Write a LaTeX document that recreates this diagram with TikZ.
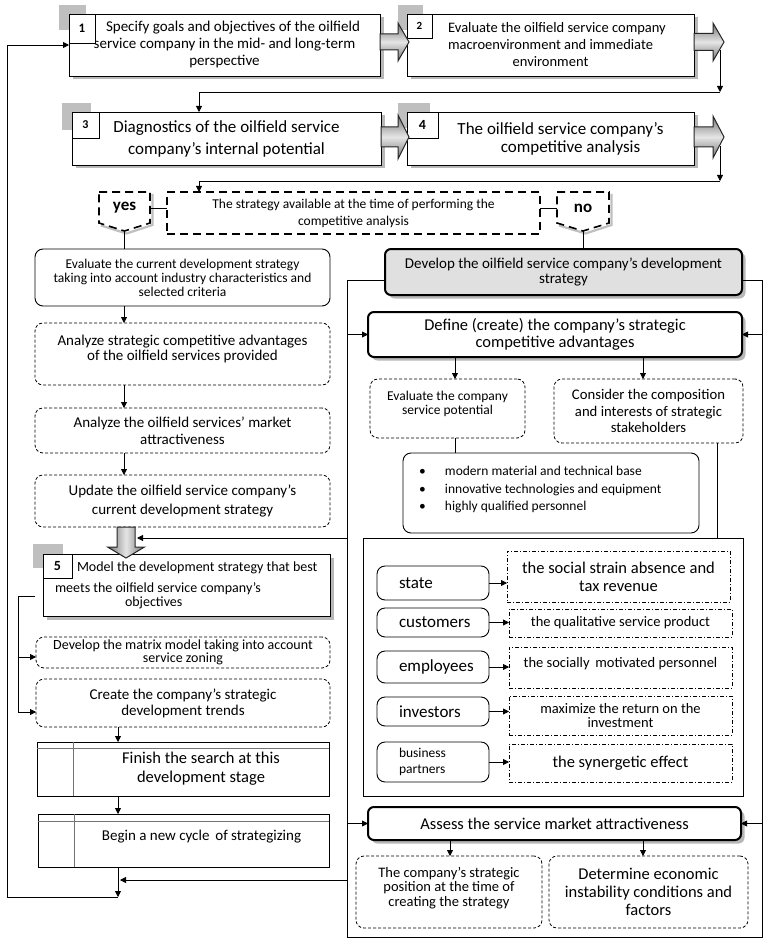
\documentclass[tikz,border=0pt]{standalone}
\usepackage{fontspec}
\setmainfont{Carlito}
\usetikzlibrary{arrows.meta,shadows,calc}
\newcommand\fsz[2]{\fontsize{#1}{#2}\selectfont}
\newcommand\boxat[6]{\node[#1, minimum width={#5-#3}, minimum height={#6-#4}] (#2) at ({(#3+#5)/2},{(#4+#6)/2})}
\newcommand\barR[6]{\draw[barrow] (#1,{#2-#4}) -- ({#1+#3-#6},{#2-#4}) -- ({#1+#3-#6},{#2-#5}) -- ({#1+#3},#2) -- ({#1+#3-#6},{#2+#5}) -- ({#1+#3-#6},{#2+#4}) -- (#1,{#2+#4}) -- cycle;}
\begin{document}
\begin{tikzpicture}[x=1pt,y=-1pt,
  every node/.style={inner sep=0pt, outer sep=0pt, align=center},
  arr/.style={-{Triangle[length=6pt,width=6pt]}, line width=0.8pt},
  ln/.style={line width=0.8pt},
  shad/.style={drop shadow={shadow xshift=3.5pt,shadow yshift=-3.5pt,fill=black!28,opacity=1}},
  sbox/.style={draw, line width=0.9pt, fill=white, shad},
  nbox/.style={draw, line width=0.9pt, fill=white, font=\bfseries\fsz{13}{13}},
  rbox/.style={draw, line width=0.9pt, rounded corners=8pt, fill=white},
  dbox/.style={draw, line width=0.8pt, rounded corners=8pt, dash pattern=on 3pt off 2pt},
  tbox/.style={draw, line width=2pt, rounded corners=6pt, fill=white, shad},
  ddbox/.style={draw, line width=0.8pt, dash pattern=on 4pt off 2pt on 1pt off 2pt},
  lbox/.style={draw, line width=1.6pt, dash pattern=on 8pt off 5pt},
  fbox/.style={draw, line width=0.9pt},
  barrow/.style={draw=black!85, line width=1pt, top color=black!55, bottom color=black!55, middle color=black!10},
  kbox/.style={rbox, font=\fsz{17}{17}},
]
\useasboundingbox (0,0) rectangle (768,941);
\fill[white] (0,0) rectangle (768,941);

% gray corner squares
\fill[black!25] (59,5) rectangle (86,30);
\fill[black!25] (398,5) rectangle (423,30);
\fill[black!25] (62,103) rectangle (91,130);
\fill[black!25] (398,103) rectangle (430,128);
\fill[black!25] (33,544) rectangle (63,568);

% top boxes
\boxat{sbox, font=\fsz{15}{17}}{b1}{69}{14}{380}{76}{\hspace*{17pt}Specify goals and objectives of the oilfield\\service company in the mid- and long-term\\perspective};
\boxat{nbox}{n1}{69}{14}{95}{43}{1};
\boxat{sbox, font=\fsz{14.5}{17}}{b2}{407}{14}{694}{76}{\hspace*{13pt}Evaluate the oilfield service company\\macroenvironment and immediate\\environment};
\boxat{nbox, font=\bfseries\fsz{11}{11}}{n2}{407}{14}{432}{38}{2};
\boxat{sbox, font=\fsz{17}{22}}{b3}{72}{112}{381}{165}{Diagnostics of the oilfield service\\company’s internal potential};
\boxat{nbox, font=\bfseries\fsz{12}{12}}{n3}{72}{112}{99}{138}{3};
\boxat{sbox, font=\fsz{17}{18}}{b4}{407}{112}{694}{165}{\hspace*{20pt}The oilfield service company’s\\\hspace*{40pt}competitive analysis};
\boxat{nbox, font=\bfseries\fsz{14}{14}}{n4}{407}{112}{438}{138}{4};

% connectors of the top rows
\coordinate (a2t) at (720,50);
\coordinate (p2) at (720,92);
\coordinate (c3) at (199,112);
\coordinate (a4t) at (720,146);
\coordinate (p4) at (720,181);
\coordinate (c5) at (199,192);
\draw[arr] (a2t) -- (p2);
\draw[arr] (p2) -| (c3);
\draw[arr] (a4t) -- (p4);
\draw[arr] (p4) -| (c5);

% block arrows
\barR{380}{42}{29}{8}{19}{11}
\barR{694}{42}{30}{8.5}{19}{11}
\barR{381}{137}{28}{10}{22}{11}
\barR{694}{137}{30}{10}{21}{11}

% decision row
\boxat{lbox, font=\fsz{13.5}{17}}{st}{167}{192}{540}{234}{The strategy available at the time of performing the\\competitive analysis};
\draw[black!25, line width=2.2pt] (152.5,194) -- (152.5,225) -- (126.5,233.5) -- (101,225.5);
\draw[lbox, fill=white] (99,192) -- (150,192) -- (150,223) -- (124.5,231) -- (99,223) -- cycle;
\node[font=\bfseries\fsz{17}{17}] (yes) at (124.5,208) {yes};
\draw[black!25, line width=2.2pt] (611.5,194) -- (611.5,225) -- (585.5,233.5) -- (559,225.5);
\draw[lbox, fill=white] (557,192) -- (609,192) -- (609,223) -- (583,231) -- (557,223) -- cycle;
\node[font=\bfseries\fsz{17}{17}] (no) at (583,208) {no};
\coordinate (yesR) at (150,208);
\coordinate (yesB) at (124.5,231);
\coordinate (noL) at (557,208);
\coordinate (noB) at (583,231);

% left column
\boxat{rbox, font=\fsz{13.5}{14}}{ev}{35}{249}{330}{306}{Evaluate the current development strategy\\taking into account industry characteristics and\\selected criteria};
\boxat{dbox, label={[font=\fsz{15}{15.5}, yshift=5pt]center:Analyze strategic competitive advantages\\of the oilfield services provided}}{as1}{35}{323}{330}{385}{};
\boxat{dbox, font=\fsz{15}{17}}{as2}{35}{408}{330}{453}{Analyze the oilfield services’ market\\attractiveness};
\boxat{dbox, font=\fsz{15}{19}}{up}{35}{475}{330}{527}{Update the oilfield service company’s\\current development strategy};

\draw[ln] (yesR) -- (yesR -| st.west);
\draw[ln] (st.east |- noL) -- (noL);
\draw[ln] (yesB) -- (yesB |- ev.north);
\coordinate (cx) at (124,0);
\draw[arr] (ev.south -| cx) -- (as1.north -| cx);
\draw[arr] (as1.south -| cx) -- (as2.north -| cx);
\draw[arr] (as2.south -| cx) -- (up.north -| cx);

% model box 5
\boxat{sbox}{b5}{43}{554}{330}{616}{};
\node[anchor=north west, align=left, font=\fsz{14}{14}] (b5t) at (55,562) {\hspace*{22pt}Model the development strategy that best\\[7pt]meets the oilfield service company’s\\\hspace*{70pt}objectives};
\boxat{nbox, font=\bfseries\fsz{14}{14}}{n5}{43}{554}{72}{578}{5};
\draw[barrow, left color=black!55, right color=black!55, middle color=black!10]
  (117,527) -- (135,527) -- (135,547) -- (144.5,547) -- (126,558) -- (107.5,547) -- (117,547) -- cycle;
\coordinate (bat) at (137,538);

\boxat{dbox, font=\fsz{14}{12.5}}{mx}{36}{637}{330}{668}{Develop the matrix model taking into account\\service zoning};
\boxat{dbox, font=\fsz{15}{16}}{cr}{36}{679}{330}{727}{Create the company’s strategic\\development trends};
\coordinate (b5c) at (35,596);
\coordinate (br) at (18,596);
\coordinate (mxw) at ($(mx.south west)+(0,-11)$);
\coordinate (crw) at ($(cr.south west)+(0,-15)$);
\draw[ln] (b5c) -- (br);
\draw[arr] (br) |- (crw);
\draw[arr] (br |- mxw) -- (mxw);

\boxat{fbox, font=\fsz{16.5}{19}}{fs}{37}{742}{329}{796}{\hspace*{36pt}Finish the search at this\\\hspace*{36pt}development stage};
\draw[black!55, line width=0.8pt] ($(fs.north west)+(0,6)$) -- ($(fs.north east)+(0,6)$);
\draw[black!55, line width=0.8pt] ($(fs.north west)+(36,0)$) -- ($(fs.south west)+(36,0)$);
\boxat{fbox, label={[font=\fsz{15}{15}, xshift=18pt, yshift=4pt]center:Begin a new cycle\, of strategizing}}{bg}{38}{814}{329}{867}{};
\draw[black!55, line width=0.8pt] ($(bg.north west)+(0,7)$) -- ($(bg.north east)+(0,7)$);
\draw[black!55, line width=0.8pt] ($(bg.north west)+(36,0)$) -- ($(bg.south west)+(36,0)$);
\coordinate (cb) at (118,0);
\draw[arr] (cr.south -| cb) -- (fs.north -| cb);
\draw[arr] (fs.south -| cb) -- (bg.north -| cb);
\coordinate (bot) at (118,897);
\coordinate (lft) at (7,897);
\draw[arr] (bg.south -| bot) -- (bot);
\draw[arr] (bot) -- (lft) |- (b1.west);

% right part: frame
\coordinate (L1) at (347,280);
\coordinate (R1) at (762,280);
\coordinate (L2) at (347,937);
\coordinate (R2) at (762,937);
\draw[ln] (L1) -- (L2) -- (R2) -- (R1);
\boxat{tbox, fill=black!12, font=\fsz{15}{14.5}}{dv}{385}{249}{742}{295}{Develop the oilfield service company’s development\\strategy};
\draw[ln] (dv.west |- L1) -- (L1);
\draw[ln] (R1) -- (dv.east |- R1);
\draw[ln] (noB) -- (noB |- dv.north);

\boxat{tbox, font=\fsz{16.5}{17}}{df}{368}{312}{742}{357}{Define (create) the company’s strategic\\competitive advantages};
\draw[arr] (L1 |- df.west) -- (df.west);
\draw[arr] (R1 |- df.east) -- (df.east);
\draw[arr] (L1 |- bat) -- (bat);
\coordinate (fr) at (120,880);
\draw[arr] (L1 |- fr) -- (fr);

\boxat{dbox, label={[font=\fsz{13.5}{14}, yshift=5pt]center:Evaluate the company\\service potential}}{ec}{370}{379}{525}{438}{};
\boxat{dbox, font=\fsz{14.7}{16.5}}{cs}{554}{379}{743}{443}{Consider the composition\\and interests of strategic\\stakeholders};
\coordinate (ecx) at (455,0);
\coordinate (csx) at (643,0);
\coordinate (csy) at (717,0);
\draw[arr] (df.south -| ecx) -- (ec.north -| ecx);
\draw[arr] (df.south -| csx) -- (cs.north -| csx);

\boxat{rbox}{bl}{403}{453}{699}{533}{};
\node[anchor=north west, align=left, font=\fsz{13.5}{17.5}] (blt) at (419,466.5) {\makebox[26pt][l]{•}modern material and technical base\\\makebox[26pt][l]{•}innovative technologies and equipment\\\makebox[26pt][l]{•}highly qualified personnel};
\draw[ln] (ec.south -| ecx) -- (bl.north -| ecx);

\boxat{fbox}{sf}{363}{538}{743}{796}{};
\draw[ln] (cs.south -| csy) -- (sf.north -| csy);

\boxat{kbox}{k1}{377}{566}{489}{600}{\makebox[68pt][l]{state}};
\boxat{kbox}{k2}{377}{608}{489}{637}{\makebox[68pt][l]{customers}};
\boxat{kbox}{k3}{377}{651}{489}{683}{\makebox[68pt][l]{employees}};
\boxat{kbox}{k4}{377}{697}{489}{726}{\makebox[68pt][l]{investors}};
\boxat{rbox, font=\fsz{13.5}{16}}{k5}{377}{742}{489}{782}{\parbox{68pt}{business\\partners}};

\boxat{ddbox, font=\fsz{16.5}{18}}{d1}{507}{551}{730}{602}{the social strain absence and\\tax revenue};
\boxat{ddbox, font=\fsz{14.5}{15}}{d2}{509}{609}{732}{637}{the qualitative service product};
\boxat{ddbox, label={[font=\fsz{14.5}{15}, yshift=4pt]center:the socially\, motivated personnel}}{d3}{509}{647}{732}{688}{};
\boxat{ddbox, font=\fsz{14.5}{14}}{d4}{509}{696}{732}{735}{maximize the return on the\\investment};
\boxat{ddbox, font=\fsz{16.5}{17}}{d5}{509}{744}{732}{782}{the synergetic effect};
\foreach \i in {1,...,5} {\draw[arr] (k\i.east) -- (k\i.east -| d\i.west);}

\boxat{tbox, font=\fsz{16.5}{17}}{as}{368}{807}{741}{840}{Assess the service market attractiveness};
\draw[arr] (L1 |- as.west) -- (as.west);
\draw[arr] (R1 |- as.east) -- (as.east);
\boxat{dbox, label={[font=\fsz{14.5}{14.5}, yshift=4pt]center:The company’s strategic\\position at the time of\\creating the strategy}}{cp}{356}{856}{542}{928}{};
\boxat{dbox, font=\fsz{16.5}{18}}{det}{549}{856}{748}{928}{Determine economic\\instability conditions and\\factors};
\coordinate (cpx) at (450,0);
\coordinate (detx) at (643,0);
\draw[arr] (as.south -| cpx) -- (cp.north -| cpx);
\draw[arr] (as.south -| detx) -- (det.north -| detx);
\end{tikzpicture}
\end{document}
